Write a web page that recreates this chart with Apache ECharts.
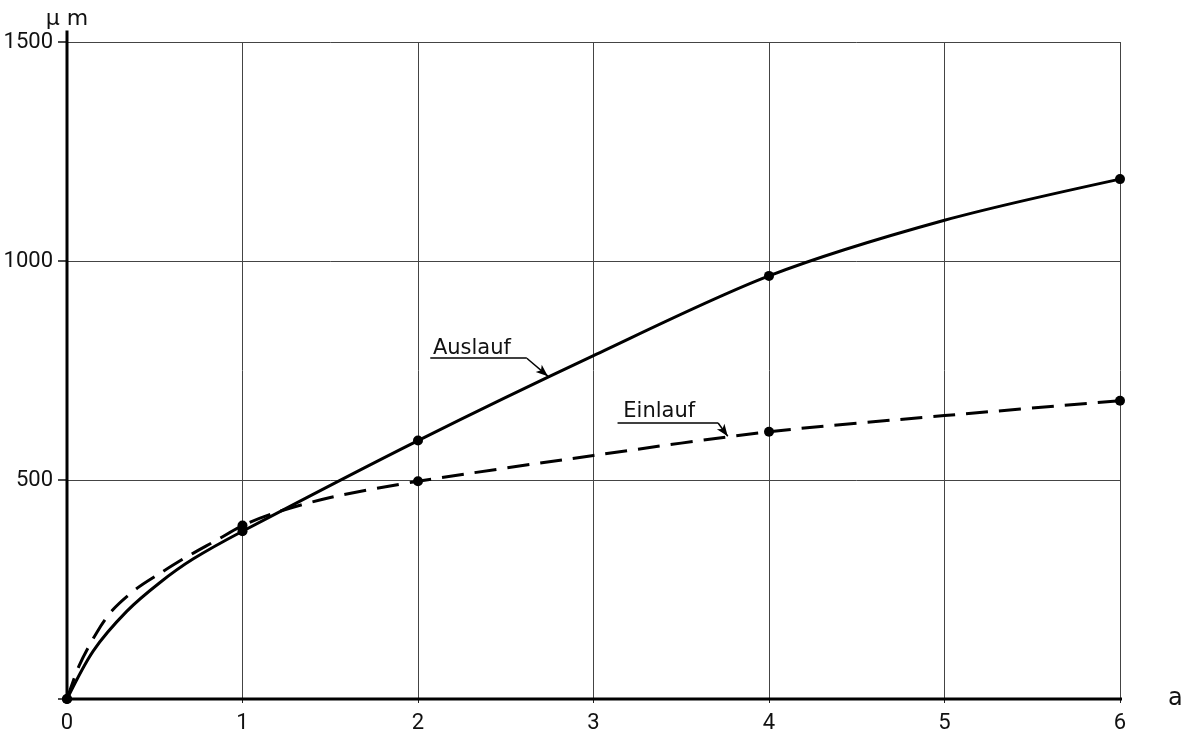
<!DOCTYPE html>
<html>
<head>
<meta charset="utf-8">
<script src="https://cdn.jsdelivr.net/npm/echarts@6/dist/echarts.min.js"></script>
<style>
  html, body { margin: 0; padding: 0; background: #ffffff; }
  #chart { width: 1188px; height: 734px; }
</style>
</head>
<body>
<div id="chart"></div>
<script>
// ---- data ----
// measured points (drawn as dots)
const auslaufPointX = [0, 1, 2, 4, 6];
const auslaufPointY = [0, 383, 590, 966, 1187];
const einlaufPointX = [0, 1, 2, 4, 6];
const einlaufPointY = [0, 396, 497, 610, 681];
// points
const auslaufCurveX = [0, 0.15, 0.34, 0.53, 0.72, 1, 2, 3, 4, 5, 6];
const auslaufCurveY = [0, 110, 200, 266, 320, 383, 590, 784, 966, 1093, 1187];
const einlaufCurveX = [0, 0.07, 0.17, 0.26, 0.4, 0.53, 0.68, 0.85, 1, 1.2, 1.5, 2, 3, 4, 5, 6];
const einlaufCurveY = [0, 77, 152, 203, 253, 287, 324, 362, 396, 427, 460, 497, 556, 610, 647, 681];
// labels
const seriesNames = ['Auslauf', 'Einlauf'];
const xAxisName = 'a';
const yAxisName = 'µ m';

const zip = (xs, ys) => xs.map((x, i) => [x, ys[i]]);

const chart = echarts.init(document.getElementById('chart'), null, { renderer: 'canvas' });

const tickFont = { fontFamily: 'Roboto', fontSize: 22, color: '#111' };
const noteFont = { fontFamily: 'DejaVu Sans', fontSize: 21, color: '#111' };

const option = {
  backgroundColor: '#ffffff',
  animation: false,
  grid: { left: 67, right: 68, top: 42, bottom: 33, containLabel: false },
  xAxis: {
    type: 'value', min: 0, max: 6, interval: 1,
    name: xAxisName, nameLocation: 'end', nameGap: 48,
    nameTextStyle: { fontFamily: 'DejaVu Sans', fontSize: 24, color: '#111', verticalAlign: 'middle', padding: [0, 0, 6, 0] },
    axisLine: { show: false },
    axisTick: { show: true, length: 4, lineStyle: { color: '#222', width: 1 } },
    axisLabel: Object.assign({ margin: 13, formatter: v => String(v) }, tickFont),
    splitLine: { show: true, lineStyle: { color: '#444', width: 1 } }
  },
  yAxis: {
    type: 'value', min: 0, max: 1500, interval: 500,
    name: yAxisName, nameLocation: 'end', nameGap: 12,
    nameTextStyle: { fontFamily: 'DejaVu Sans', fontSize: 22, color: '#111', align: 'center' },
    axisLine: { show: false },
    axisTick: { show: true, length: 9, lineStyle: { color: '#111', width: 1.5 } },
    axisLabel: Object.assign({ margin: 14, formatter: v => (v === 0 ? '' : String(v)) }, tickFont),
    splitLine: { show: true, lineStyle: { color: '#444', width: 1 } }
  },
  series: [
    // axis lines (extend past the grid like the drawing)
    {
      type: 'line', clip: false, silent: true, symbol: 'none', z: 5,
      data: [[-0.045, 0], [6.24, 0]],
      lineStyle: { color: '#000', width: 3 }
    },
    {
      type: 'line', clip: false, silent: true, symbol: 'none', z: 5,
      data: [[0, -4], [0, 1526]],
      lineStyle: { color: '#000', width: 3 }
    },
    {
      name: seriesNames[0], type: 'line', smooth: 0.3, symbol: 'none', z: 6,
      data: zip(auslaufCurveX, auslaufCurveY),
      lineStyle: { color: '#000', width: 3 },
      markPoint: {
        symbol: 'circle', symbolSize: 0, silent: true,
        label: Object.assign({ show: true, position: 'right', distance: 0, formatter: seriesNames[0] }, noteFont),
        data: [{ coord: [2.085, 801] }]
      },
      markLine: {
        silent: true, symbol: ['none', 'none'],
        lineStyle: { color: '#000', width: 1.5, type: 'solid' },
        label: { show: false },
        data: [
          [{ coord: [2.07, 778] }, { coord: [2.62, 778] }],
          [{ coord: [2.62, 778] }, { coord: [2.74, 737], symbol: 'arrow', symbolSize: [7, 12] }]
        ]
      }
    },
    {
      name: seriesNames[1], type: 'line', smooth: 0.3, symbol: 'none', z: 6,
      data: zip(einlaufCurveX, einlaufCurveY),
      lineStyle: { color: '#000', width: 3, type: [22, 11] },
      markPoint: {
        symbol: 'circle', symbolSize: 0, silent: true,
        label: Object.assign({ show: true, position: 'right', distance: 0, formatter: seriesNames[1] }, noteFont),
        data: [{ coord: [3.17, 656] }]
      },
      markLine: {
        silent: true, symbol: ['none', 'none'],
        lineStyle: { color: '#000', width: 1.5, type: 'solid' },
        label: { show: false },
        data: [
          [{ coord: [3.137, 630] }, { coord: [3.71, 630] }],
          [{ coord: [3.71, 630] }, { coord: [3.765, 600], symbol: 'arrow', symbolSize: [7, 12] }]
        ]
      }
    },
    {
      type: 'scatter', symbol: 'circle', symbolSize: 10, z: 8,
      itemStyle: { color: '#000', opacity: 1 },
      data: zip(auslaufPointX, auslaufPointY)
    },
    {
      type: 'scatter', symbol: 'circle', symbolSize: 10, z: 8,
      itemStyle: { color: '#000', opacity: 1 },
      data: zip(einlaufPointX, einlaufPointY)
    }
  ]
};

chart.setOption(option);
</script>
</body>
</html>
